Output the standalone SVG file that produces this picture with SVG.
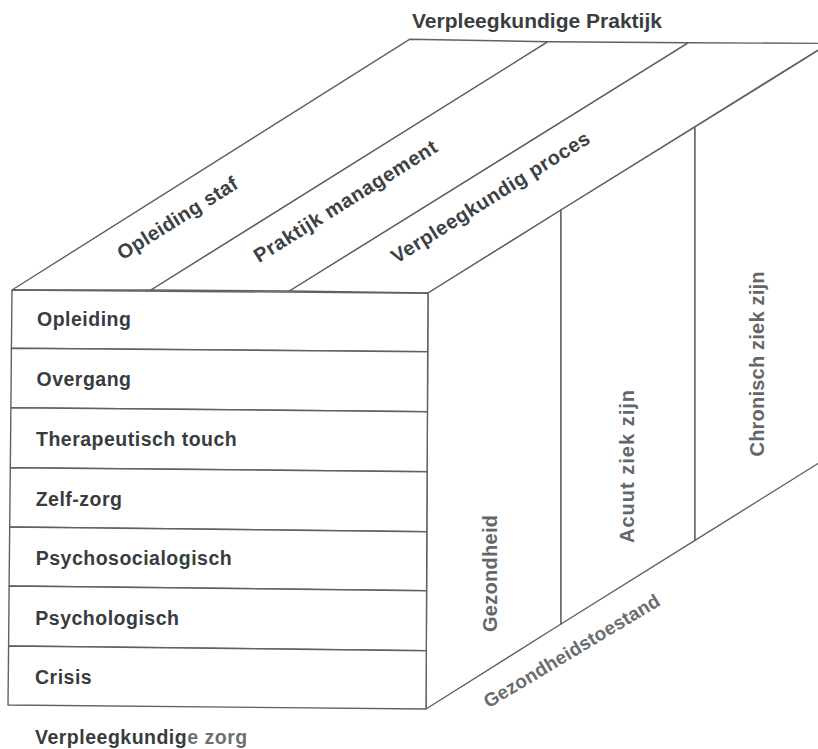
<svg xmlns="http://www.w3.org/2000/svg" width="818" height="749" viewBox="0 0 818 749">
<style>
.f{fill:#fff;stroke:#5f6163;stroke-width:1.4;stroke-linejoin:round}
.t{font-family:"Liberation Sans",Arial,Helvetica,sans-serif;font-weight:bold}
.row{font-size:19.5px;letter-spacing:0.5px;fill:#383c3f}
.top{font-size:20px;fill:#3c4144}
.side{font-size:20px;fill:#636769}
.axis{font-size:19px;fill:#6a6d6f}
</style>
<rect width="818" height="749" fill="#fff"/>
<text class="t" x="412" y="28" font-size="20.5" fill="#3a3e41" textLength="250" lengthAdjust="spacingAndGlyphs">Verpleegkundige Praktijk</text>

<g id="top-face">
  <g id="opleiding-staf">
    <polygon class="f" points="12,290 151,290 548,41.7 409.5,39.3"/>
    <text class="t top" transform="translate(181,224) rotate(-32)" text-anchor="middle" textLength="138">Opleiding staf</text>
  </g>
  <g id="praktijk-management">
    <polygon class="f" points="151,290 289.5,291 688.6,42.7 548,41.7"/>
    <text class="t top" transform="translate(349,207) rotate(-32)" text-anchor="middle" textLength="212">Praktijk management</text>
  </g>
  <g id="verpleegkundig-proces">
    <polygon class="f" points="289.5,291 428,293 826,45 826,43.4 688.6,42.7"/>
    <text class="t top" transform="translate(494,203) rotate(-32)" text-anchor="middle" textLength="230">Verpleegkundig proces</text>
  </g>
</g>

<g id="right-face">
  <g id="gezondheid">
    <polygon class="f" points="428,293 561,210 561,624 426,709"/>
    <text class="t side" transform="translate(497,573.5) rotate(-90)" text-anchor="middle" textLength="117">Gezondheid</text>
  </g>
  <g id="acuut-ziek-zijn">
    <polygon class="f" points="561,210 695,127 695,540.4 561,624"/>
    <text class="t side" transform="translate(634,466.5) rotate(-90)" text-anchor="middle" textLength="153">Acuut ziek zijn</text>
  </g>
  <g id="chronisch-ziek-zijn">
    <polygon class="f" points="695,127 830,43 830,456 695,540.4"/>
    <text class="t side" transform="translate(764,364) rotate(-90)" text-anchor="middle" textLength="185">Chronisch ziek zijn</text>
  </g>
  <text class="t axis" transform="translate(575,656.5) rotate(-31)" text-anchor="middle" textLength="202">Gezondheidstoestand</text>
</g>

<g id="front-face">
  <g id="opleiding">
    <polygon class="f" points="12,290 428,293.3 427.7,351.7 11.4,348.3"/>
    <text class="t row" x="37" y="326">Opleiding</text>
  </g>
  <g id="overgang">
    <polygon class="f" points="11.4,348.3 427.7,351.7 427.4,411.7 10.9,407.7"/>
    <text class="t row" x="36.5" y="386">Overgang</text>
  </g>
  <g id="therapeutisch-touch">
    <polygon class="f" points="10.9,407.7 427.4,411.7 427.1,471.7 10.3,467.7"/>
    <text class="t row" x="36" y="446">Therapeutisch touch</text>
  </g>
  <g id="zelf-zorg">
    <polygon class="f" points="10.3,467.7 427.1,471.7 426.8,531.7 9.7,527"/>
    <text class="t row" x="35.7" y="505.5">Zelf-zorg</text>
  </g>
  <g id="psychosocialogisch">
    <polygon class="f" points="9.7,527 426.8,531.7 426.6,590.7 9.1,586"/>
    <text class="t row" x="35.7" y="565">Psychosocialogisch</text>
  </g>
  <g id="psychologisch">
    <polygon class="f" points="9.1,586 426.6,590.7 426.3,650.7 8.6,646"/>
    <text class="t row" x="35.3" y="624.5">Psychologisch</text>
  </g>
  <g id="crisis">
    <polygon class="f" points="8.6,646 426.3,650.7 426,709 8,705"/>
    <text class="t row" x="35" y="684">Crisis</text>
  </g>
</g>
<text class="t row" x="35" y="744">Verpleegkundig<tspan fill="#6c7073">e zorg</tspan></text>
<g id="connectors"/>
</svg>
